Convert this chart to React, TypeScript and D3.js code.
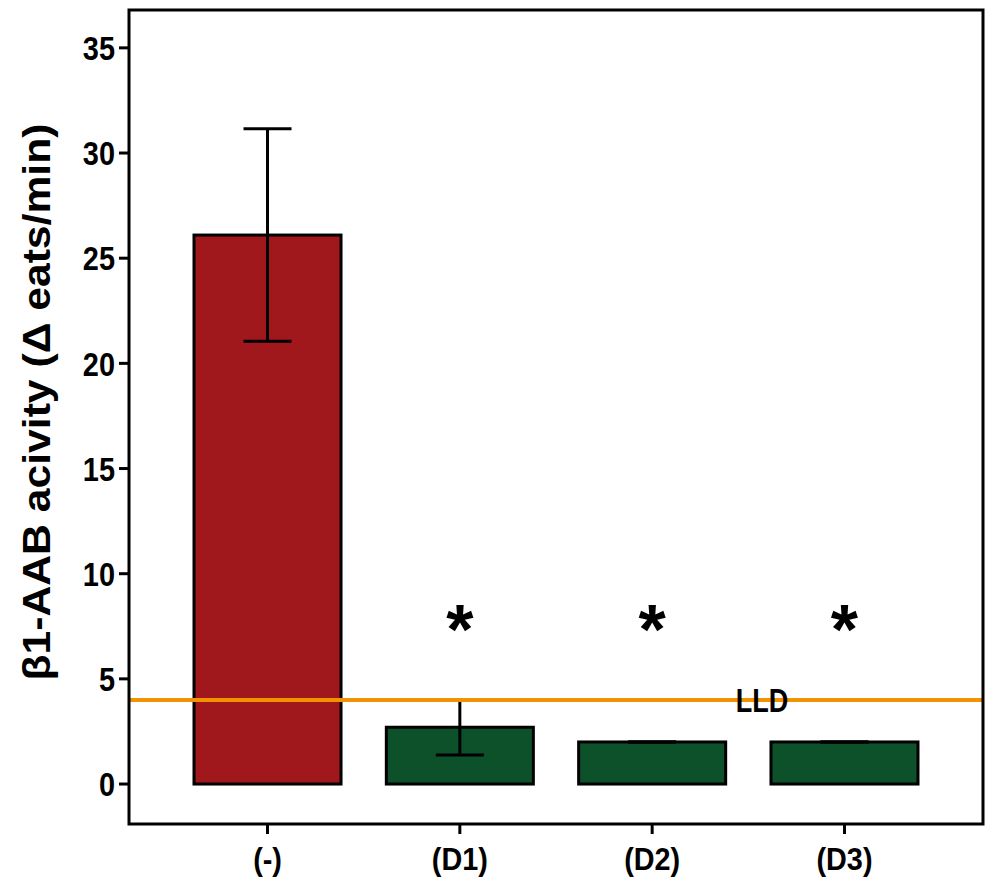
import React from 'react'
import * as d3 from 'd3'

const categories = ['(-)', '(D1)', '(D2)', '(D3)']
const means = [26.1, 2.7, 2.0, 2.0]
const errors = [5.05, 1.32, 0, 0]
const barColors = ['#a0181c', '#0c5129', '#0c5129', '#0c5129']
const significant = [false, true, true, true]
const yTicks = [0, 5, 10, 15, 20, 25, 30, 35]
const lld = 4.0
const starLevel = 7.8

const font = "'Liberation Sans', Arial, sans-serif"

// condensed bold label, like Arial Narrow in the original
const Narrow = ({x, y, size, sx = 0.85, anchor = 'middle', dy = '0', children}: any) => (
  <text transform={`translate(${x},${y}) scale(${sx},1)`} dy={dy} textAnchor={anchor}
        fontFamily={font} fontWeight="bold" fontSize={size}>{children}</text>
)

const App = () => {
  const left = 129, right = 983, top = 10, bottom = 824

  const x = d3.scaleBand<string>()
    .domain(categories)
    .range([left, right])
    .paddingInner(0.2356)
    .paddingOuter(0.338)

  const y = d3.scaleLinear().domain([-1.9, 36.8]).range([bottom, top])

  const bw = x.bandwidth()
  const capW = 48

  return (
    <svg width={990} height={884} style={{position: 'absolute', left: 0, top: 0, background: '#fff'}}>
      {/* bars */}
      {categories.map((c, i) => (
        <rect key={c} x={x(c)} y={y(means[i])} width={bw} height={y(0) - y(means[i])}
              fill={barColors[i]} stroke="#000" strokeWidth={3}/>
      ))}

      {/* error bars */}
      {categories.map((c, i) => {
        const cx = x(c)! + bw / 2
        const lo = y(means[i] - errors[i]), hi = y(means[i] + errors[i])
        return (
          <g key={c} stroke="#000" strokeWidth={3}>
            <line x1={cx} x2={cx} y1={lo} y2={hi}/>
            <line x1={cx - capW / 2} x2={cx + capW / 2} y1={hi} y2={hi}/>
            <line x1={cx - capW / 2} x2={cx + capW / 2} y1={lo} y2={lo}/>
          </g>
        )
      })}

      {/* lower limit of detection */}
      <line x1={left} x2={right} y1={y(lld)} y2={y(lld)} stroke="#f39200" strokeWidth={4}/>
      <Narrow x={762} y={y(lld)} dy="0.36em" size={33} sx={0.82}>LLD</Narrow>

      {/* significance */}
      {categories.map((c, i) => significant[i] ? (
        <text key={c} x={x(c)! + bw / 2} y={y(starLevel) + 34} textAnchor="middle"
              fontFamily={font} fontWeight="bold" fontSize={70}>*</text>
      ) : null)}

      {/* frame */}
      <rect x={left} y={top} width={right - left} height={bottom - top} fill="none" stroke="#000" strokeWidth={3}/>

      {/* y axis */}
      {yTicks.map(t => (
        <g key={t}>
          <line x1={left - 10} x2={left} y1={y(t)} y2={y(t)} stroke="#000" strokeWidth={3}/>
          <Narrow x={left - 14} y={y(t)} dy="0.36em" size={34} anchor="end">{t}</Narrow>
        </g>
      ))}

      {/* x axis */}
      {categories.map(c => {
        const cx = x(c)! + bw / 2
        return (
          <g key={c}>
            <line x1={cx} x2={cx} y1={bottom} y2={bottom + 10} stroke="#000" strokeWidth={3}/>
            <Narrow x={cx} y={bottom + 46} size={32} sx={0.9}>{c}</Narrow>
          </g>
        )
      })}

      {/* y title */}
      <text transform={`translate(50, 402) rotate(-90)`} textAnchor="middle"
            fontFamily={font} fontWeight="bold" fontSize={38}
            textLength={557} lengthAdjust="spacingAndGlyphs">β1-AAB acivity (Δ eats/min)</text>
    </svg>
  )
}

export default App
